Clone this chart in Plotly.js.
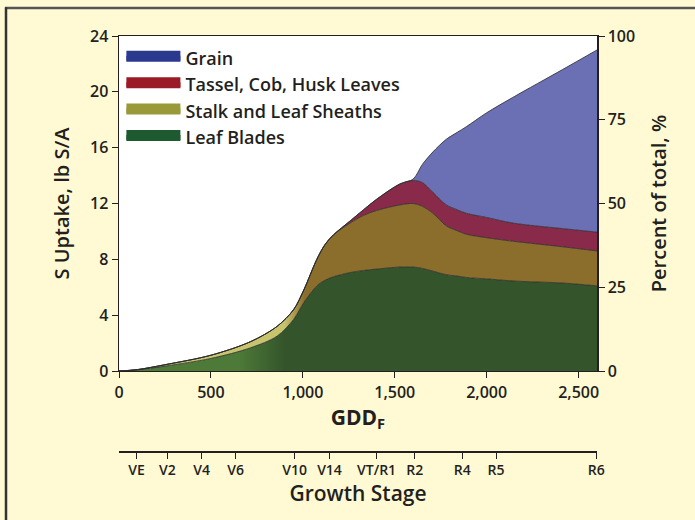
<!DOCTYPE html>
<html>
<head>
<meta charset="utf-8">
<script src="https://cdn.plot.ly/plotly-3.0.1.min.js"></script>
<style>html,body{margin:0;padding:0;background:#fffad4;}#chart{width:695px;height:520px;}</style>
</head>
<body>
<div id="chart"></div>
<script>
// GDD (°F) sample points
const gdd = [0, 100, 250, 500, 715, 860, 950, 1005, 1076, 1120, 1166, 1257, 1330, 1401, 1528, 1600, 1650, 1708, 1780, 1840, 1889, 2000, 2142, 2413, 2600];
// S uptake components, lb S/A
const leafBlades = [0, 0.08, 0.35, 0.9, 1.66, 2.5, 3.7, 4.9, 6.1, 6.5, 6.75, 7.05, 7.2, 7.3, 7.45, 7.45, 7.35, 7.15, 6.9, 6.8, 6.7, 6.6, 6.45, 6.3, 6.1];
const stalkSheaths = [0, 0.02, 0.1, 0.23, 0.44, 0.7, 0.7, 0.9, 1.9, 2.55, 3.0, 3.55, 3.95, 4.2, 4.45, 4.55, 4.45, 4.15, 3.5, 3.25, 3.1, 2.95, 2.85, 2.6, 2.5];
const tasselCobHusk = [0, 0, 0, 0, 0, 0, 0, 0, 0, 0, 0, 0.15, 0.4, 0.8, 1.5, 1.65, 1.7, 1.5, 1.5, 1.5, 1.5, 1.45, 1.3, 1.3, 1.35];
const grain = [0, 0, 0, 0, 0, 0, 0, 0, 0, 0, 0, 0, 0, 0, 0, 0.1, 1.3, 2.9, 4.7, 5.55, 6.2, 7.5, 9.0, 11.4, 13.05];

const seriesNames = ['Leaf Blades', 'Stalk and Leaf Sheaths', 'Tassel, Cob, Husk Leaves', 'Grain'];
const legendColors = ['#1d5a2f', '#9a993a', '#9a1b27', '#2b3a8f'];

// Growth stage axis
const stageGDD = [95, 263, 450, 634, 955, 1145, 1401, 1609, 1867, 2051, 2596];
const stageLabels = ['VE', 'V2', 'V4', 'V6', 'V10', 'V14', 'VT/R1', 'R2', 'R4', 'R5', 'R6'];

const FONT = '"Open Sans", Lato, sans-serif';
const INK = '#231f20';
const edge = {color: '#2a2a2a', width: 0.8, shape: 'spline', smoothing: 0.9};

const traces = [
  {x: gdd, y: leafBlades, stackgroup: 'one', mode: 'lines', line: edge, showlegend: false,
   fillgradient: {type: 'horizontal', colorscale: [[0, '#4d7a38'], [1, '#34552b']], start: 650, stop: 900}},
  {x: gdd, y: stalkSheaths, stackgroup: 'one', mode: 'lines', line: edge, showlegend: false,
   fillgradient: {type: 'horizontal', colorscale: [[0, '#c8c46e'], [1, '#8b6d2c']], start: 900, stop: 1010}},
  {x: gdd, y: tasselCobHusk, stackgroup: 'one', mode: 'lines', line: edge, fillcolor: '#8a2a4b', showlegend: false},
  {x: gdd, y: grain, stackgroup: 'one', mode: 'lines', line: edge, fillcolor: '#6b6fb3', showlegend: false}
];
// legend entries (Grain first)
for (let i = 3; i >= 0; i--) {
  traces.push({x: [null], y: [null], type: 'scatter', mode: 'lines', fill: 'toself',
    fillcolor: legendColors[i], line: {color: legendColors[i], width: 12}, name: seriesNames[i], hoverinfo: 'skip'});
}
traces.push({x: [null], y: [null], yaxis: 'y2', showlegend: false, hoverinfo: 'skip'});
traces.push({x: [null], y: [null], xaxis: 'x2', showlegend: false, hoverinfo: 'skip'});

const tickFont = {family: FONT, size: 16, color: INK, weight: 600};
const layout = {
  width: 695, height: 520,
  margin: {l: 119, r: 98, t: 36, b: 40},
  paper_bgcolor: '#fffad4', plot_bgcolor: '#ffffff',
  font: {family: FONT, color: INK},
  showlegend: true,
  legend: {x: 0.005, y: 0.992, xanchor: 'left', yanchor: 'top', bgcolor: 'rgba(0,0,0,0)', traceorder: 'normal',
           itemwidth: 54, font: {family: FONT, size: 18, color: INK, weight: 600}, tracegroupgap: 0},
  xaxis: {range: [0, 2600], tickvals: [0, 500, 1000, 1500, 2000, 2500], tickformat: ',d',
          ticks: 'outside', ticklen: 6, tickcolor: INK, showline: true, linecolor: INK, linewidth: 1.5,
          mirror: true, showgrid: false, zeroline: false, tickfont: tickFont,
          title: {text: 'GDD<sub>F</sub>', font: {family: FONT, size: 21, weight: 700}, standoff: 8}},
  xaxis2: {overlaying: 'x', anchor: 'free', position: 0.0653, side: 'bottom', range: [0, 2600],
           tickvals: stageGDD, ticktext: stageLabels, ticks: 'outside', ticklen: 6, tickcolor: INK,
           showline: true, linecolor: INK, linewidth: 1.5, showgrid: false, zeroline: false,
           tickfont: {family: FONT, size: 14, color: INK, weight: 600},
           title: {text: 'Growth Stage', font: {family: FONT, size: 21, weight: 600}, standoff: 8}},
  yaxis: {domain: [0.2455, 1], range: [0, 24], tickvals: [0, 4, 8, 12, 16, 20, 24], ticks: 'outside', ticklen: 6,
          tickcolor: INK, showline: true, linecolor: INK, linewidth: 1.5, mirror: true,
          showgrid: false, zeroline: false, tickfont: tickFont,
          title: {text: 'S Uptake, lb S/A', font: {family: FONT, size: 20, weight: 600}, standoff: 15}},
  yaxis2: {overlaying: 'y', side: 'right', anchor: 'x', range: [0, 100], tickvals: [0, 25, 50, 75, 100],
           ticks: 'outside', ticklen: 6, tickcolor: INK, showline: true, linecolor: INK, linewidth: 1.5,
           showgrid: false, zeroline: false, tickfont: tickFont,
           title: {text: 'Percent of total, %', font: {family: FONT, size: 20, weight: 600}, standoff: 18}},
  shapes: [
    {type: 'line', xref: 'paper', yref: 'paper', x0: -0.2385, x1: 1.21, y0: 1.063, y1: 1.063, line: {color: '#555', width: 2.5}},
    {type: 'line', xref: 'paper', yref: 'paper', x0: -0.2364, x1: -0.2364, y0: 1.065, y1: -0.1, line: {color: '#333', width: 2.5}}
  ]
};
Plotly.newPlot('chart', traces, layout, {displayModeBar: false, staticPlot: true});
</script>
</body>
</html>
